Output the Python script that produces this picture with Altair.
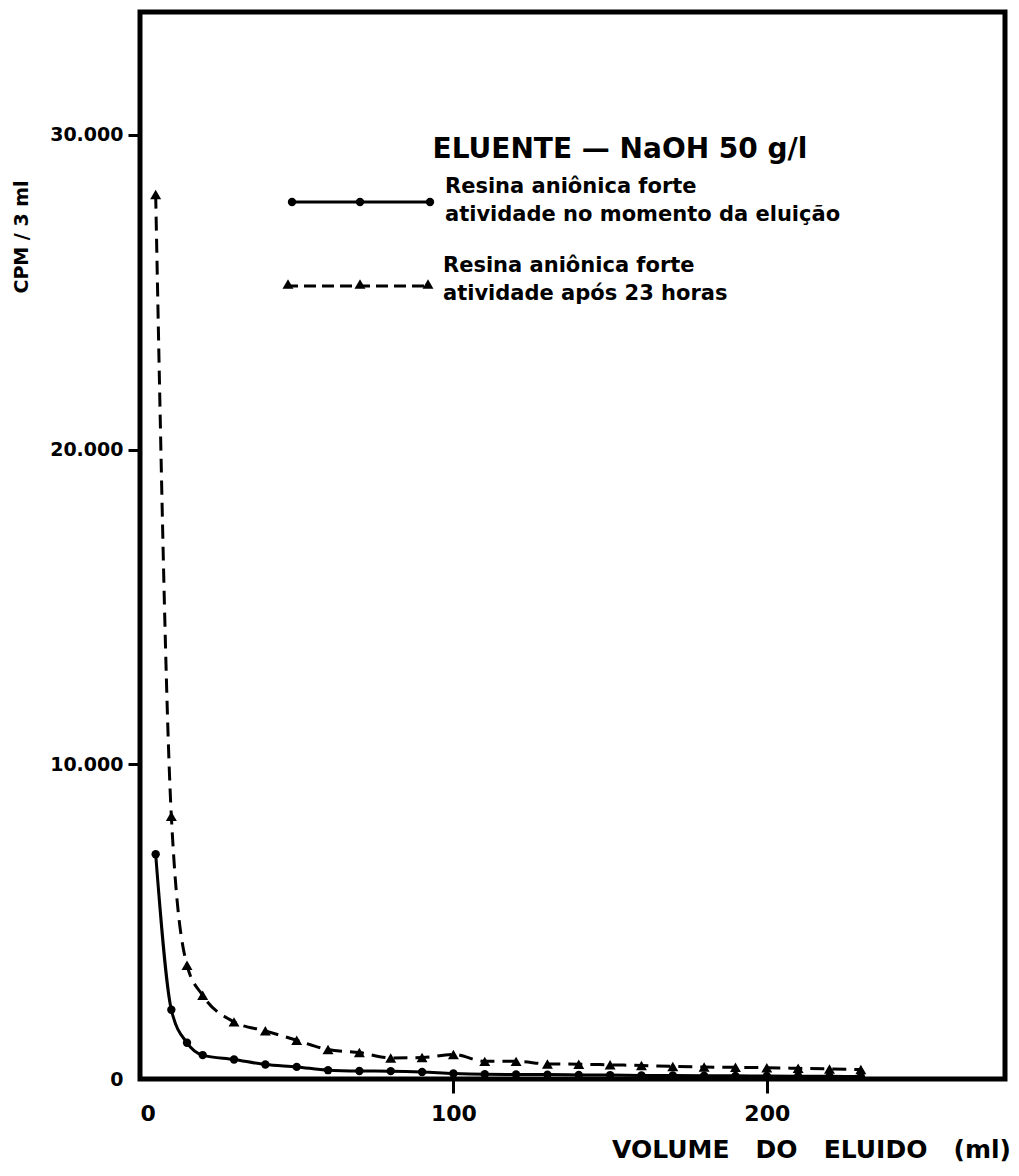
import altair as alt
import pandas as pd

# --- data ---
vol_a = [5, 10, 15, 20, 30, 40, 50, 60, 70, 80, 90, 100, 110, 120, 130, 140,
         150, 160, 170, 180, 190, 200, 210, 220, 230]
cpm_a = [7140, 2200, 1150, 760, 620, 460, 385, 280, 255, 250, 225, 175, 150, 145,
         140, 130, 125, 115, 110, 105, 100, 95, 90, 85, 80]
vol_b = [5, 10, 15, 20, 30, 40, 50, 60, 70, 80, 90, 100, 110, 120, 130, 140,
         150, 160, 170, 180, 190, 200, 210, 220, 230]
cpm_b = [28100, 8350, 3615, 2660, 1815, 1530, 1230, 935, 840, 670, 680, 780, 560,
         560, 480, 470, 450, 430, 400, 380, 370, 360, 340, 320, 300]

y_ticks = [0, 10000, 20000, 30000]
x_ticks = [0, 100, 200]

title_txt = "ELUENTE — NaOH 50 g/l"
leg_a = ["Resina aniônica forte", "atividade no momento da eluição"]
leg_b = ["Resina aniônica forte", "atividade após 23 horas"]
x_title = "VOLUME\u00a0\u00a0\u00a0DO\u00a0\u00a0\u00a0ELUIDO\u00a0\u00a0\u00a0(ml)"
y_title = "CPM / 3 ml"

FONT = "DejaVu Sans"

df_a = pd.DataFrame({"vol": vol_a, "cpm": cpm_a})
df_b = pd.DataFrame({"vol": vol_b, "cpm": cpm_b})

xs = alt.Scale(domain=[0, 276], nice=False, zero=False)
ys = alt.Scale(domain=[0, 33900], nice=False)

x_axis = alt.Axis(values=x_ticks, title=None, grid=False, domain=False,
                  tickSize=14, tickWidth=3, tickColor="black",
                  tickOpacity={"condition": {"test": "datum.value == 0", "value": 0}, "value": 1},
                  labelFont=FONT, labelFontWeight="bold", labelFontSize=22,
                  labelColor="black", labelPadding=10)
y_axis = alt.Axis(values=y_ticks, title=None, grid=False, domain=False,
                  tickSize=12, tickWidth=3, tickColor="black",
                  tickOpacity={"condition": {"test": "datum.value == 0", "value": 0}, "value": 1},
                  labelExpr="datum.value == 0 ? '0' : replace(format(datum.value, ','), ',', '.')",
                  labelFont=FONT, labelFontWeight="bold", labelFontSize=19,
                  labelColor="black", labelPadding=5)

base_a = alt.Chart(df_a)
base_b = alt.Chart(df_b)

line_a = base_a.mark_line(color="black", strokeWidth=3, interpolate="monotone").encode(
    x=alt.X("vol:Q", scale=xs, axis=x_axis),
    y=alt.Y("cpm:Q", scale=ys, axis=y_axis))
pts_a = base_a.mark_point(shape="circle", filled=True, color="black", size=70, opacity=1).encode(
    x=alt.X("vol:Q", scale=xs), y=alt.Y("cpm:Q", scale=ys))

line_b = base_b.mark_line(color="black", strokeWidth=3, strokeDash=[14, 8],
                          interpolate="monotone").encode(
    x=alt.X("vol:Q", scale=xs), y=alt.Y("cpm:Q", scale=ys))
pts_b = base_b.mark_point(shape="triangle-up", filled=True, color="black", size=120, opacity=1).encode(
    x=alt.X("vol:Q", scale=xs), y=alt.Y("cpm:Q", scale=ys))

# --- annotation / legend (decorations, in pixel space) ---
txt_style = dict(font=FONT, fontWeight="bold", color="black")

title_mark = alt.Chart(pd.DataFrame({"t": [title_txt]})).mark_text(
    fontSize=28, align="center", baseline="middle", **txt_style).encode(
    x=alt.value(480), y=alt.value(138), text="t:N")

leg_line_a = alt.Chart(pd.DataFrame({"a": [0]})).mark_rule(color="black", strokeWidth=3).encode(
    x=alt.value(150), x2=alt.value(290), y=alt.value(190))
leg_pts_a = alt.Chart(pd.DataFrame({"px": [152, 220, 290], "py": [190, 190, 190]})).mark_point(
    shape="circle", filled=True, color="black", size=70, opacity=1).encode(
    x=alt.X("px:Q", scale=None), y=alt.Y("py:Q", scale=None))
leg_txt_a = alt.Chart(pd.DataFrame({"t": leg_a, "py": [175, 203]})).mark_text(
    fontSize=21, align="left", baseline="middle", **txt_style).encode(
    x=alt.value(305), y=alt.Y("py:Q", scale=None), text="t:N")

leg_line_b = alt.Chart(pd.DataFrame({"a": [0]})).mark_rule(color="black", strokeWidth=3,
                                                           strokeDash=[12, 6]).encode(
    x=alt.value(146), x2=alt.value(290), y=alt.value(274))
leg_pts_b = alt.Chart(pd.DataFrame({"px": [148, 220, 288], "py": [272, 272, 272]})).mark_point(
    shape="triangle-up", filled=True, color="black", size=120, opacity=1).encode(
    x=alt.X("px:Q", scale=None), y=alt.Y("py:Q", scale=None))
leg_txt_b = alt.Chart(pd.DataFrame({"t": leg_b, "py": [254, 282]})).mark_text(
    fontSize=21, align="left", baseline="middle", **txt_style).encode(
    x=alt.value(303), y=alt.Y("py:Q", scale=None), text="t:N")

xtitle_mark = alt.Chart(pd.DataFrame({"t": [x_title]})).mark_text(
    fontSize=25, align="right", baseline="middle", **txt_style).encode(
    x=alt.value(871), y=alt.value(1138), text="t:N")
ytitle_mark = alt.Chart(pd.DataFrame({"t": [y_title]})).mark_text(
    fontSize=19, align="center", baseline="middle", angle=270, **txt_style).encode(
    x=alt.value(-118), y=alt.value(225), text="t:N")

chart = alt.layer(
    line_a, pts_a, line_b, pts_b,
    title_mark, leg_line_a, leg_pts_a, leg_txt_a,
    leg_line_b, leg_pts_b, leg_txt_b, xtitle_mark, ytitle_mark
).properties(
    width=865, height=1067,
    autosize=alt.AutoSizeParams(type="none"),
    padding={"left": 132, "top": 4, "right": 6, "bottom": 90},
    background="white"
).configure_view(stroke="black", strokeWidth=5)

chart.save("out.html", embed_options={"renderer": "svg", "actions": False})
